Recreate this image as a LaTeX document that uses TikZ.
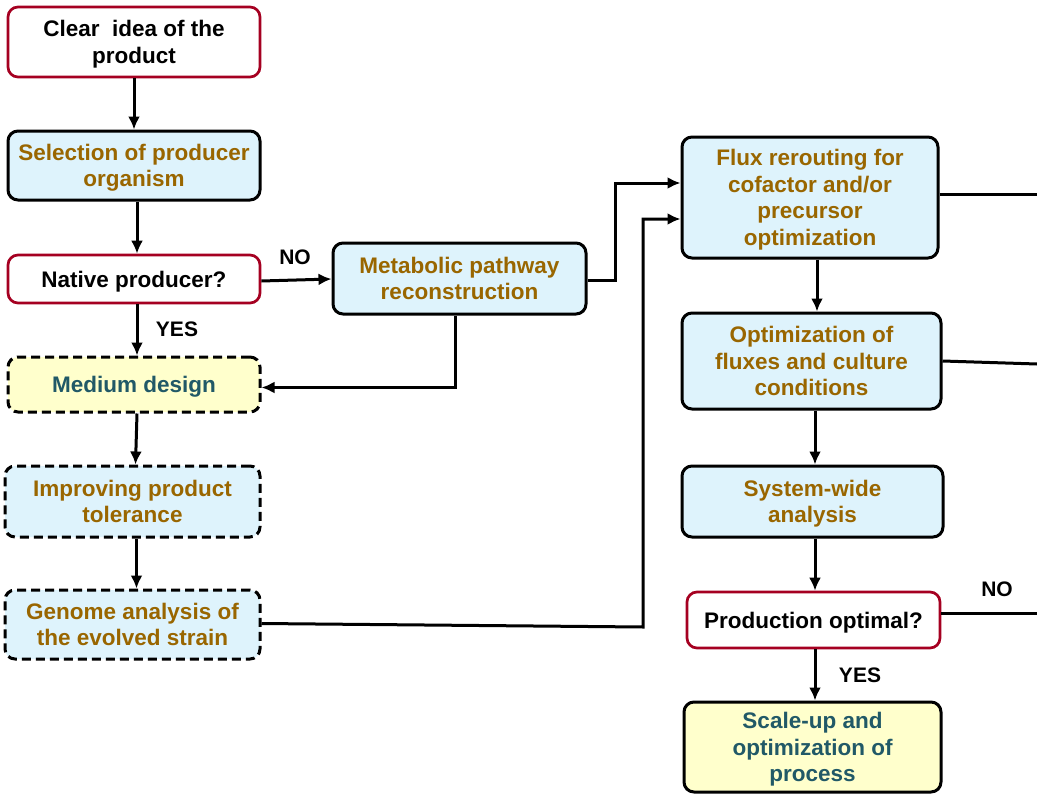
\documentclass[tikz,border=0pt]{standalone}
\usepackage{fontspec}
\setmainfont{Liberation Sans}
\usetikzlibrary{positioning, arrows.meta}
\definecolor{qred}{RGB}{165,0,33}
\definecolor{cellblue}{RGB}{222,243,252}
\definecolor{cellyellow}{RGB}{255,255,204}
\definecolor{gold}{RGB}{153,102,0}
\definecolor{deepteal}{RGB}{33,89,103}
\tikzset{>={Latex[length=13pt,width=12pt]}}
\tikzset{
    base/.style = {rectangle, rounded corners=10pt, line width=3pt, align=center,
                        inner sep=0pt, font=\bfseries\fontsize{22.5}{26.5}\selectfont,
                        text depth=-8pt},
    question/.style = {base, draw=qred, line width=2.7pt, fill=white, text=black},
    task/.style = {base, draw=black, fill=cellblue, text=gold},
    trial/.style = {task, dash pattern=on 9pt off 5pt},
    mediumbox/.style = {base, draw=black, dash pattern=on 9pt off 5pt, fill=cellyellow, text=deepteal},
    goal/.style = {base, draw=black, fill=cellyellow, text=deepteal},
    tag/.style = {font=\bfseries\fontsize{21}{24}\selectfont, text=black},
    link/.style = {line width=3pt}
}

\begin{document}
\begin{tikzpicture}[x=1pt, y=-1pt]
		\useasboundingbox (0,0) rectangle (1037,795);
		% left column
		\node (idea) [question, minimum width=252pt, minimum height=70pt] at (134,42) {Clear~ idea of the\\product};
		\node (select) [task, minimum width=252pt, minimum height=69pt] at (134,165.5) {Selection of producer\\organism};
		\node (native) [question, minimum width=252pt, minimum height=48pt] at (134,279) {Native producer?};
		\node (medium) [mediumbox, minimum width=252pt, minimum height=55pt] at (134,384.5) {Medium design};
		\node (toler) [trial, minimum width=255pt, minimum height=71pt] at (132.5,501.5) {Improving product\\tolerance};
		\node (genome) [trial, minimum width=255pt, minimum height=69pt] at (132.5,624.5) {Genome analysis of\\the evolved strain};
		% middle
		\node (metab) [task, minimum width=253pt, minimum height=71pt] at (459.5,278.5) {Metabolic pathway\\reconstruction};
		% right column
		\node (flux) [task, minimum width=256pt, minimum height=121pt] at (810,197.5) {Flux rerouting for\\cofactor and/or\\precursor\\optimization};
		\node (optim) [task, minimum width=259pt, minimum height=96pt] at (811.5,361) {Optimization of\\fluxes and culture\\conditions};
		\node (system) [task, minimum width=261pt, minimum height=71pt] at (812.5,501.5) {System-wide\\analysis};
		\node (prod) [question, minimum width=253pt, minimum height=56pt] at (813.5,620) {Production optimal?};
		\node (scale) [goal, minimum width=257pt, minimum height=90pt] at (812.5,747) {Scale-up and\\optimization of\\process};
		% labels
		\node (no1) [tag] at (295,257) {NO};
		\node (yes1) [tag] at (177,329) {YES};
		\node (no2) [tag] at (997,589) {NO};
		\node (yes2) [tag] at (860,675) {YES};
		% bend points and loose ends
		\coordinate (bendm) at (615,280);
		\coordinate (bendg) at (643,627);
		\coordinate (outa) at (1037,194);
		\coordinate (outb) at (1037,364);
		\coordinate (outc) at (1037,613);
		% connectors
		\draw [->, link] (idea) -- (select);
		\draw [->, link] ([xshift=3pt]select.south) -- ([xshift=3pt]native.north);
		\draw [->, link] ([yshift=-2pt]native.east) -- ([yshift=-0.5pt]metab.west);
		\draw [->, link] ([xshift=3pt]native.south) -- ([xshift=3pt]medium.north);
		\draw [->, link] ([xshift=-4pt]metab.south) |- ([yshift=-3pt]medium.east);
		\draw [->, link] ([xshift=3pt]medium.south) -- ([xshift=3pt]toler.north);
		\draw [->, link] ([xshift=4pt]toler.south) -- ([xshift=4pt]genome.north);
		\draw [->, link] (metab.east |- bendm) -- (bendm) |- ([yshift=14.5pt]flux.west);
		\draw [->, link] ([yshift=1pt]genome.east) -- (bendg) |- ([yshift=-21.5pt]flux.west);
		\draw [->, link] ([xshift=7pt]flux.south) -- ([xshift=5.5pt]optim.north);
		\draw [->, link] ([xshift=3.5pt]optim.south) -- ([xshift=2.5pt]system.north);
		\draw [->, link] ([xshift=2.5pt]system.south) -- ([xshift=1.5pt]prod.north);
		\draw [->, link] ([xshift=1.5pt]prod.south) -- ([xshift=2.5pt]scale.north);
		\draw [link] (flux.east |- outa) -- (outa);
		\draw [link] (optim.east) -- (outb);
		\draw [link] (prod.east |- outc) -- (outc);
	\end{tikzpicture}
\end{document}
